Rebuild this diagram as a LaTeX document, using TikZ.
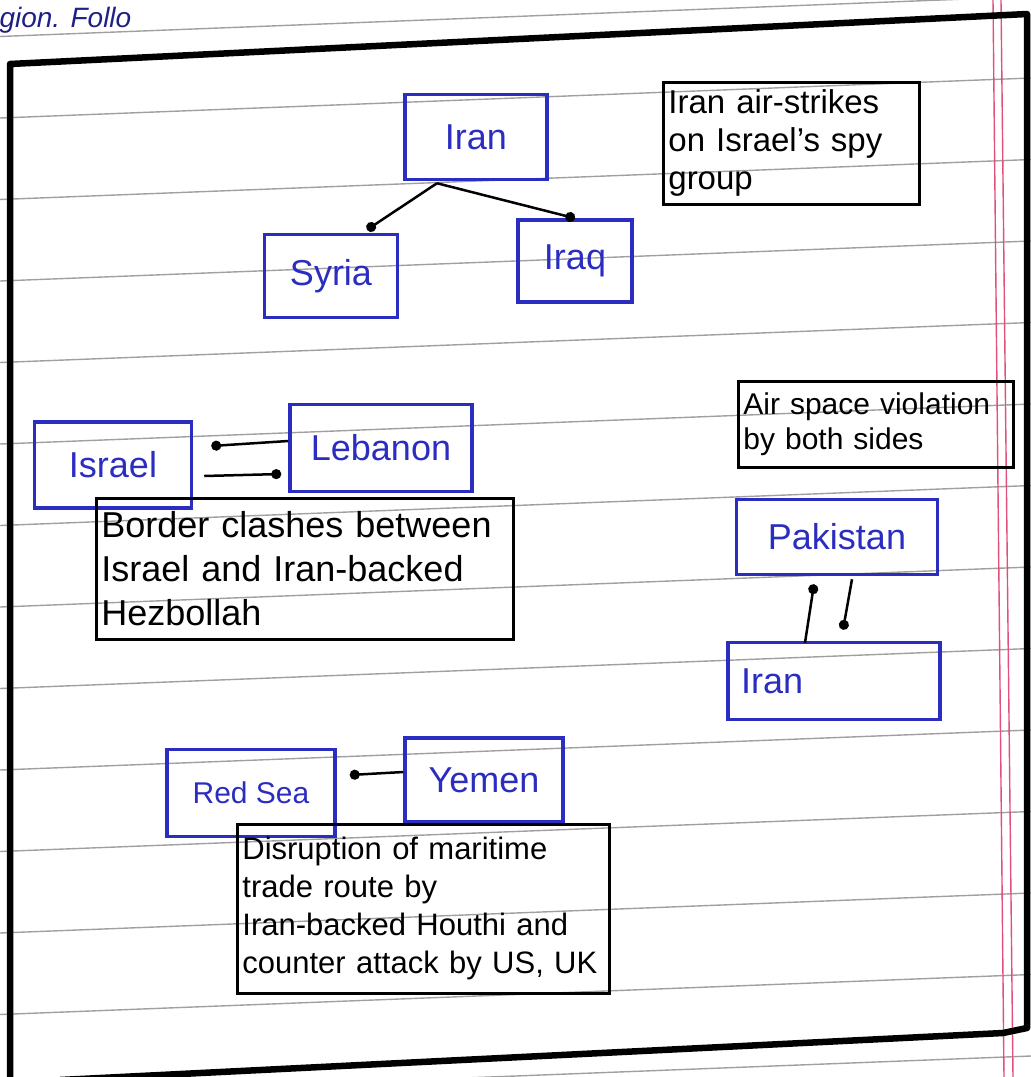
\documentclass[tikz,border=0pt]{standalone}
\usepackage{fontspec}
\setmainfont{Liberation Sans}
\usetikzlibrary{arrows.meta,calc}
\definecolor{ink}{HTML}{2B2DC0}
\definecolor{rule}{HTML}{A0A0A0}
\definecolor{margin}{HTML}{E0507A}
\tikzset{
  place/.style={draw=ink,text=ink,line width=3.5pt,align=center,inner sep=0pt,
    font=\fontsize{36}{40}\selectfont},
  note/.style={draw=black,line width=2.8pt,align=left,inner xsep=5pt,inner ysep=4pt,anchor=north west,
    text=black},
  link/.style={line width=2.5pt,black},
  dotstart/.style={link,{Circle[length=10pt]}-},
  dotend/.style={link,-{Circle[length=10pt]}},
  ruling/.style={rule,line width=1.4pt},
}
\begin{document}
\begin{tikzpicture}[x=1pt,y=-1pt]
\useasboundingbox (0,0) rectangle (1031,1077);
\clip (0,0) rectangle (1031,1077);
% ruled paper lines
\foreach \k in {-1,...,12}{
  \draw[ruling] (0,{118+81.5*\k}) -- (1031,{118+81.5*\k-40});
}
% red margin lines
\draw[margin,line width=1.4pt] (993,0) -- (1004,1077);
\draw[margin,line width=1.4pt] (1001,0) -- (1013,1077);
% heading fragment
\node[text=ink!70!black,anchor=west,font=\fontsize{28}{30}\selectfont\itshape] (head) at (-4,20) {gion. Follo};
% outer frame
\draw[black,line width=6.5pt,line join=round] (10,1090) -- (10,64) -- (1027,14) -- (1027,1028) -- (1003,1033) -- (60,1080);

% top group
\node[place,minimum width=142,minimum height=85] (iranT) at (476,137) {Iran};
\node[place,minimum width=133,minimum height=83] (syria) at (331,276) {Syria};
\node[place,minimum width=114,minimum height=82] (iraq) at (575,261) {Iraq};
\node[note,text width=246,minimum height=122,font=\fontsize{33}{38}\selectfont] (noteA) at (662,81)
  {Iran air-strikes\\on Israel's spy\\group};
\draw[dotend] ($(iranT.south)+(-39,2)$) -- ($(syria.north)+(36,-3)$);
\draw[dotend] ($(iranT.south)+(-39,2)$) -- (iraq.north);

% Israel / Lebanon
\node[place,minimum width=157,minimum height=86] (israel) at (113,465) {Israel};
\node[place,minimum width=182,minimum height=87] (lebanon) at (381,448) {Lebanon};
\draw[dotstart] ($(israel.east)+(18,-19)$) -- ($(lebanon.west)+(0,-7)$);
\draw[dotend] ($(israel.east)+(11,11)$) -- ($(lebanon.west)+(-7,26)$);
\node[note,text width=407,minimum height=141,font=\fontsize{36}{44}\selectfont] (noteB) at (95,497)
  {Border clashes between\\Israel and Iran-backed\\Hezbollah};

% Pakistan / Iran
\node[note,text width=265,minimum height=86,font=\fontsize{30}{35}\selectfont] (noteC) at (737,380)
  {Air space violation\\by both sides};
\node[place,minimum width=201,minimum height=75] (pak) at (837,537) {Pakistan};
\node[place,minimum width=212,minimum height=77,text width=186,align=left] (iranR) at (834,681) {Iran};
\draw[link,-{Circle[length=10pt]}] ($(iranR.north)+(-29,2)$) -- ($(pak.south)+(-23,8)$);
\draw[dotend] ($(pak.south)+(15,3)$) -- ($(iranR.north)+(9,-11)$);

% Red Sea / Yemen
\node[place,minimum width=168,minimum height=87,font=\fontsize{30}{34}\selectfont] (redsea) at (251,793) {Red Sea};
\node[place,minimum width=158,minimum height=84] (yemen) at (484,780) {Yemen};
\draw[dotstart] ($(redsea.east)+(13,-18)$) -- ($(yemen.west)+(0,-8)$);
\node[note,text width=362,minimum height=169,font=\fontsize{31}{38}\selectfont] (noteD) at (236,823)
  {Disruption of maritime\\trade route by\\Iran-backed Houthi and\\counter attack by US, UK};
\end{tikzpicture}
\end{document}
